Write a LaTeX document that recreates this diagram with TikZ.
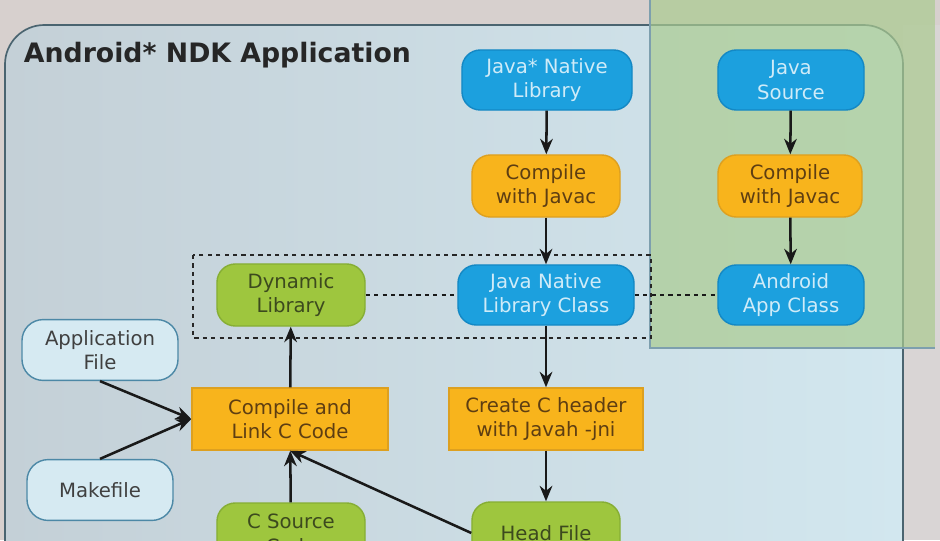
\documentclass[tikz,border=0pt]{standalone}
\usepackage{fontspec}
\setmainfont{DejaVu Sans}
\usetikzlibrary{arrows.meta}
\definecolor{jblue}{HTML}{1CA0DE}
\definecolor{jblueline}{HTML}{1488C4}
\definecolor{jbluetext}{HTML}{CFEBF8}
\definecolor{jorange}{HTML}{F8B41C}
\definecolor{jorangeline}{HTML}{DDA020}
\definecolor{jorangetext}{HTML}{5E3E12}
\definecolor{jgreen}{HTML}{9EC63E}
\definecolor{jgreenline}{HTML}{86AE34}
\definecolor{jgreentext}{HTML}{3C4A1E}
\definecolor{jpale}{HTML}{D6EAF2}
\definecolor{jpaleline}{HTML}{4C88A6}
\definecolor{jpanel}{HTML}{4A6470}
\definecolor{jpanelleft}{HTML}{C4D0D7}
\definecolor{jpanelright}{HTML}{D2E7EF}
\definecolor{jtop}{HTML}{D7D0CE}
\definecolor{jside}{HTML}{D9D5D5}
\definecolor{joverlay}{HTML}{AACB90}
\tikzset{
  base/.style={align=center,font=\fontsize{14}{17.5}\selectfont,line width=1pt,inner sep=2pt},
  bluebox/.style={base,draw=jblueline,fill=jblue,text=jbluetext,rounded corners=13pt,minimum height=1.5cm},
  orangebox/.style={base,draw=jorangeline,fill=jorange,text=jorangetext,rounded corners=13pt,minimum height=1.55cm,minimum width=3.7cm},
  orangerect/.style={base,draw=jorangeline,fill=jorange,text=jorangetext,minimum height=1.55cm},
  greenbox/.style={base,draw=jgreenline,fill=jgreen,text=jgreentext,rounded corners=13pt,minimum height=1.55cm,minimum width=3.7cm},
  palebox/.style={base,draw=jpaleline,fill=jpale,text=black!75,rounded corners=15pt,minimum height=1.52cm},
  flow/.style={->,line width=1.8pt,black!90},
  link/.style={dashed,line width=1.5pt,black!90},
}
\begin{document}
\begin{tikzpicture}[>={Stealth[length=11pt,width=9pt]},x=0.025cm,y=-0.025cm]
	\useasboundingbox (0,0) rectangle (940,540);
	%Background
	\fill[jtop] (0,0) rectangle (940,540);
	\fill[jside] (903,25) rectangle (940,540);
	\draw[jpanel,line width=1.2pt,left color=jpanelleft,right color=jpanelright,rounded corners=28pt] (5,25) rectangle (903,620);
	\fill[joverlay,opacity=0.7] (650,0) rectangle (935,348);
	\draw[cyan!30!gray,line width=0.8pt] (650,0) -- (650,348) -- (935,348);
	%Title
	\node[anchor=west,font=\fontsize{19}{22}\selectfont\bfseries,text=black!85] (title) at (19,55) {Android* NDK Application};
	%Dashed frame
	\draw[dashed,line width=0.9pt,black!85] (193,255) rectangle (651,338);
	%Java column
	\node[bluebox,minimum width=4.25cm] (jnl) at (547,80) {Java* Native\\Library};
	\node[orangebox] (cjl) at (546,186) {Compile\\with Javac};
	\node[bluebox,minimum width=4.4cm] (jnlc) at (546,295) {Java Native\\Library Class};
	\node[orangerect,minimum width=4.85cm] (hdr) at (546,419) {Create C header\\with Javah -jni};
	\node[greenbox] (hf) at (546,533) {Head File};
	%Android column
	\node[bluebox,minimum width=3.65cm] (js) at (791,80) {Java\\Source};
	\node[orangebox,minimum width=3.6cm] (cjr) at (790,186) {Compile\\with Javac};
	\node[bluebox,minimum width=3.65cm] (aac) at (791,295) {Android\\App Class};
	%C column
	\node[greenbox] (dl) at (291,295) {Dynamic\\Library};
	\node[orangerect,minimum width=4.9cm] (cl) at (290,419) {Compile and\\Link C Code};
	\node[greenbox] (cs) at (291,534) {C Source\\Code};
	\node[palebox,minimum width=3.9cm] (af) at (100,350) {Application\\File};
	\node[palebox,minimum width=3.65cm] (mk) at (100,490) {Makefile};
	%Arrows
	\draw[flow] (jnl) -- (cjl);
	\draw[flow] (cjl) -- (jnlc);
	\draw[flow] (jnlc) -- (hdr);
	\draw[flow] (hdr) -- (hf);
	\draw[flow] (js) -- (cjr);
	\draw[flow] (cjr) -- (aac);
	\draw[flow] (cl) -- (dl);
	\draw[flow] (cs) -- (cl);
	\draw[flow] (hf.west) -- (cl.south);
	\draw[flow] (af.south) -- (cl.west);
	\draw[flow] (mk.north) -- (cl.west);
	%Dashed links
	\draw[link] (dl) -- (jnlc);
	\draw[link] (jnlc) -- (aac);
\end{tikzpicture}
\end{document}
